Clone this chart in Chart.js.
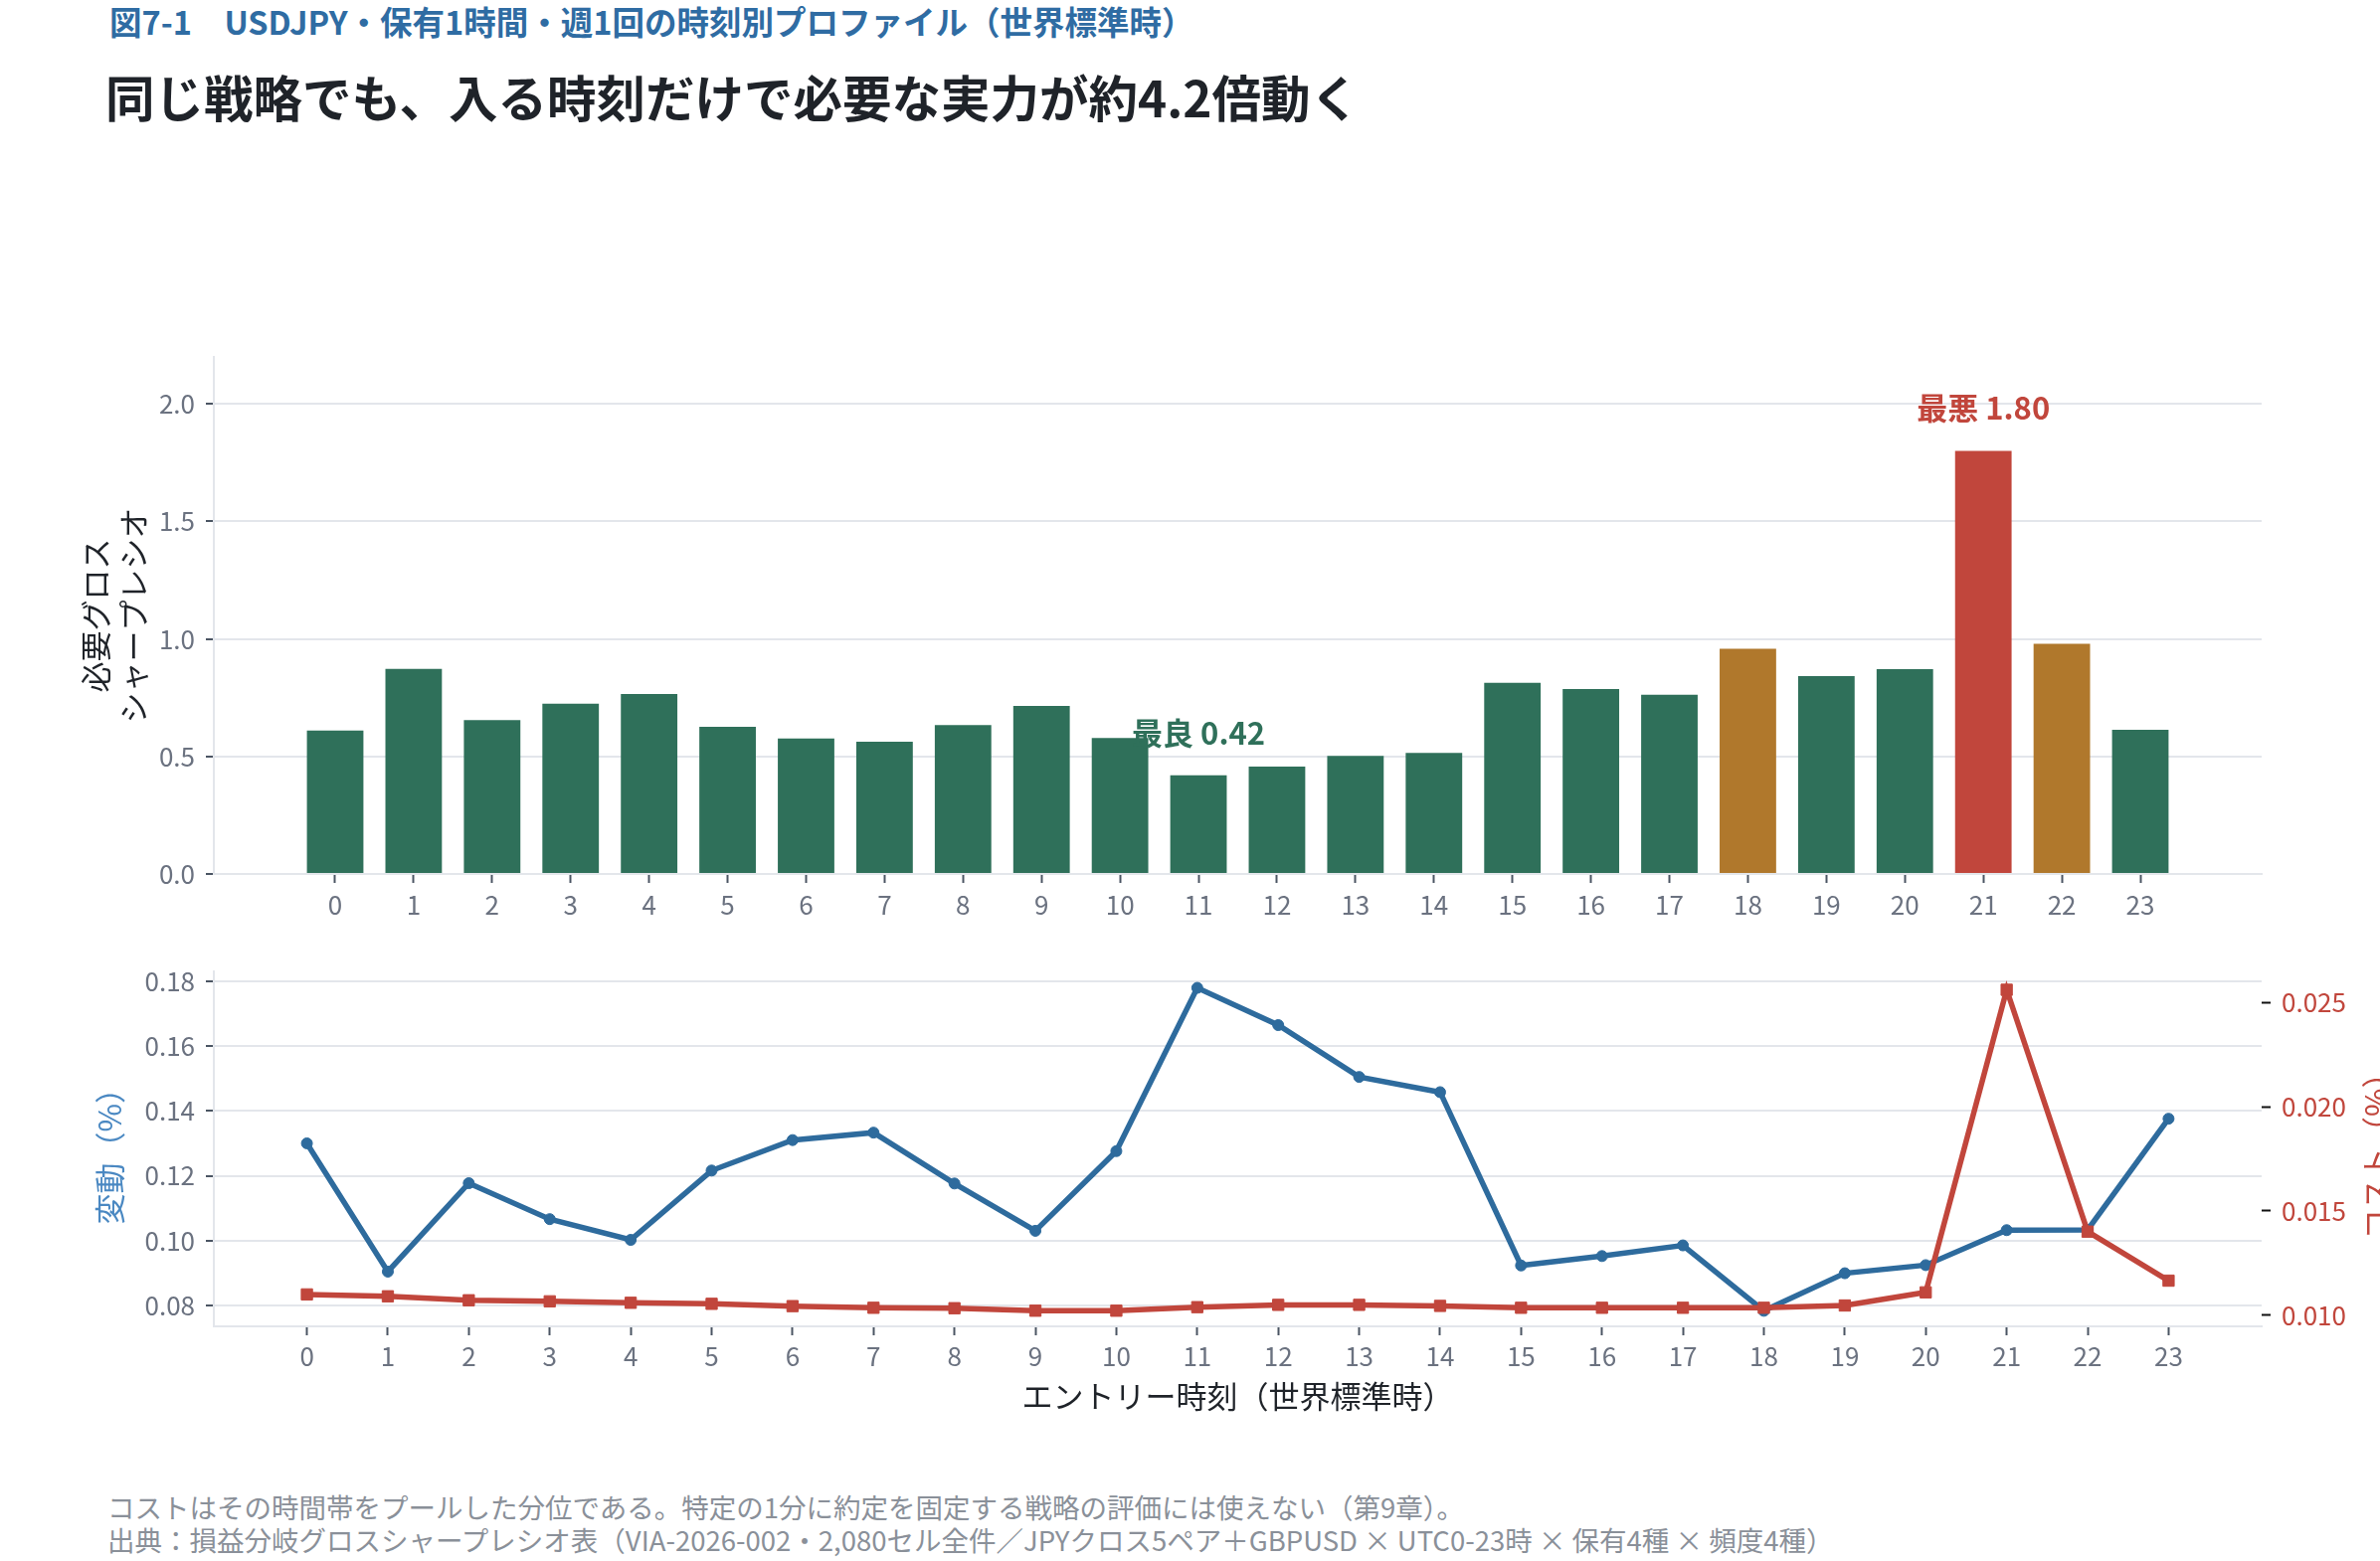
<!DOCTYPE html>
<html lang="ja">
<head>
<meta charset="utf-8">
<title>図7-1 USDJPY 時刻別プロファイル</title>
<script src="https://cdn.jsdelivr.net/npm/chart.js@4.4.1/dist/chart.umd.min.js"></script>
<style>
  body {
    margin: 0;
    width: 2393px;
    height: 1570px;
    background: #ffffff;
    position: relative;
    overflow: hidden;
    font-family: "Noto Sans CJK JP", "Noto Sans", sans-serif;
  }
  .kicker {
    position: absolute; left: 110px; top: 5px;
    font-size: 32.5px; line-height: 1; font-weight: 700;
    color: #2f6ca3; white-space: nowrap;
  }
  .headline {
    position: absolute; left: 106px; top: 72px;
    font-size: 49.5px; line-height: 1; font-weight: 700;
    color: #1f2329; white-space: nowrap;
  }
  .note {
    position: absolute; left: 108px; top: 1499px;
    font-size: 27.5px; line-height: 33px;
    color: #8a9099; white-space: nowrap;
  }
  canvas { position: absolute; left: 0; }
  #top-chart { top: 320px; }
  #bottom-chart { top: 950px; }
</style>
</head>
<body>
<div class="kicker">図7-1　USDJPY・保有1時間・週1回の時刻別プロファイル（世界標準時）</div>
<div class="headline">同じ戦略でも、入る時刻だけで必要な実力が約4.2倍動く</div>

<canvas id="top-chart" width="2393" height="620"></canvas>
<canvas id="bottom-chart" width="2393" height="500"></canvas>

<div class="note">コストはその時間帯をプールした分位である。特定の1分に約定を固定する戦略の評価には使えない（第9章）。<br>出典：損益分岐グロスシャープレシオ表（VIA-2026-002・2,080セル全件／JPYクロス5ペア＋GBPUSD × UTC0-23時 × 保有4種 × 頻度4種）</div>

<script>
// ---- データ ----
const hours = [0, 1, 2, 3, 4, 5, 6, 7, 8, 9, 10, 11, 12, 13, 14, 15, 16, 17, 18, 19, 20, 21, 22, 23];

// 必要グロス・シャープレシオ（上段の棒）
const requiredSharpe = [0.61, 0.873, 0.655, 0.724, 0.766, 0.626, 0.576, 0.563, 0.634, 0.715, 0.579, 0.42,
                        0.457, 0.502, 0.515, 0.813, 0.787, 0.763, 0.958, 0.842, 0.872, 1.80, 0.979, 0.613];

// 変動（%）と コスト（%）（下段の折れ線）
const volatility = [0.130, 0.0904, 0.1177, 0.1066, 0.1002, 0.1216, 0.131, 0.1333, 0.1176, 0.103, 0.1276, 0.178,
                    0.1665, 0.1505, 0.1458, 0.0923, 0.0952, 0.0985, 0.0783, 0.0899, 0.0924, 0.1032, 0.1033, 0.1376];
const cost = [0.0110, 0.01091, 0.01072, 0.01067, 0.0106, 0.01055, 0.01044, 0.01036, 0.01034, 0.01022, 0.01022, 0.01039,
              0.0105, 0.0105, 0.01045, 0.01036, 0.01036, 0.01036, 0.01036, 0.01047, 0.0111, 0.0256, 0.01401, 0.01166];

// 目盛り
const sharpeTicks = [0, 0.5, 1.0, 1.5, 2.0];
const volTicks = [0.08, 0.10, 0.12, 0.14, 0.16, 0.18];
const costTicks = [0.010, 0.015, 0.020, 0.025];

// ---- 色とフォント ----
const GREEN = '#2f705a';
const AMBER = '#b0782c';
const RED = '#c1463c';
const BLUE = '#2e6b9d';
const BLUE_LABEL = '#4a88c2';
const GRID = '#e3e6eb';
const TICK_MARK = '#4b5563';
const TICK_TEXT = '#6b7280';
const FONT = '"Noto Sans CJK JP", "Noto Sans", sans-serif';

Chart.defaults.font.family = FONT;
Chart.defaults.color = TICK_TEXT;

const tickFont = { size: 26 };
const titleFont = { size: 31, lineHeight: 1.2 };

// 上位1位=赤、2〜3位=琥珀、その他=緑
const ranked = requiredSharpe.map((v, i) => i).sort((a, b) => requiredSharpe[b] - requiredSharpe[a]);
const barColors = requiredSharpe.map((v, i) => {
  const r = ranked.indexOf(i);
  if (r === 0) return RED;
  if (r <= 2) return AMBER;
  return GREEN;
});

// 固定した軸の幅・高さ（プロット領域の位置合わせ用）
const fixWidth = w => scale => { scale.width = w; };
const fixHeight = h => scale => { scale.height = h; };
const setTicks = list => scale => { scale.ticks = list.map(v => ({ value: v })); };

// ---- 上段：最良・最悪の注記 ----
const barNotes = {
  id: 'barNotes',
  afterDatasetsDraw(chart) {
    const { ctx, scales: { x, y } } = chart;
    const best = requiredSharpe.indexOf(Math.min(...requiredSharpe));
    const worst = requiredSharpe.indexOf(Math.max(...requiredSharpe));
    const notes = [
      { i: best, text: '最良 ' + requiredSharpe[best].toFixed(2), color: GREEN },
      { i: worst, text: '最悪 ' + requiredSharpe[worst].toFixed(2), color: RED }
    ];
    ctx.save();
    ctx.font = `bold 31px ${FONT}`;
    ctx.textAlign = 'center';
    ctx.textBaseline = 'middle';
    notes.forEach(n => {
      ctx.fillStyle = n.color;
      ctx.fillText(n.text, x.getPixelForValue(hours[n.i]), y.getPixelForValue(requiredSharpe[n.i]) - 43);
    });
    ctx.restore();
  }
};

new Chart(document.getElementById('top-chart'), {
  type: 'bar',
  data: {
    datasets: [{
      label: '必要グロスシャープレシオ',
      data: hours.map((h, i) => ({ x: h, y: requiredSharpe[i] })),
      backgroundColor: barColors,
      borderWidth: 0,
      barPercentage: 0.72,
      categoryPercentage: 1.0
    }]
  },
  options: {
    responsive: false,
    animation: false,
    layout: { padding: { top: 39, left: 78, right: 119, bottom: 0 } },
    plugins: { legend: { display: false }, tooltip: { enabled: false } },
    scales: {
      x: {
        type: 'linear',
        min: -1.546,
        max: 24.546,
        offset: false,
        afterBuildTicks: setTicks(hours),
        afterFit: fixHeight(61),
        grid: { offset: false, drawOnChartArea: false, drawTicks: true, tickLength: 9, tickColor: TICK_MARK, tickWidth: 2 },
        border: { color: GRID, width: 2 },
        ticks: { font: tickFont, color: TICK_TEXT, padding: 7, autoSkip: false, maxRotation: 0 }
      },
      y: {
        min: 0,
        max: 2.2,
        afterBuildTicks: setTicks(sharpeTicks),
        afterFit: fixWidth(137),
        grid: { color: GRID, lineWidth: 2, tickLength: 8, tickColor: TICK_MARK, tickWidth: 2 },
        border: { color: GRID, width: 2 },
        ticks: { font: tickFont, color: TICK_TEXT, padding: 11, callback: v => v.toFixed(1) },
        title: {
          display: true,
          text: ['必要グロス', 'シャープレシオ'],
          font: titleFont,
          color: '#1f2329',
          padding: { top: 0, bottom: 0 }
        }
      }
    }
  },
  plugins: [barNotes]
});

// ---- 下段：右軸の見出し（左軸と同じ向き） ----
const costTitle = {
  id: 'costTitle',
  afterDraw(chart) {
    const { ctx, chartArea } = chart;
    ctx.save();
    ctx.translate(2389, (chartArea.top + chartArea.bottom) / 2);
    ctx.rotate(-Math.PI / 2);
    ctx.font = `31px ${FONT}`;
    ctx.fillStyle = RED;
    ctx.textAlign = 'center';
    ctx.textBaseline = 'middle';
    ctx.fillText('コスト（%）', 0, 0);
    ctx.restore();
  }
};

new Chart(document.getElementById('bottom-chart'), {
  type: 'line',
  data: {
    datasets: [
      {
        label: 'コスト（%）',
        data: hours.map((h, i) => ({ x: h, y: cost[i] })),
        yAxisID: 'y2',
        borderColor: RED,
        backgroundColor: RED,
        borderWidth: 5.5,
        pointStyle: 'rect',
        pointRadius: 8,
        pointBorderWidth: 1,
        tension: 0,
        order: 0
      },
      {
        label: '変動（%）',
        data: hours.map((h, i) => ({ x: h, y: volatility[i] })),
        yAxisID: 'y',
        borderColor: BLUE,
        backgroundColor: BLUE,
        borderWidth: 5.5,
        pointStyle: 'circle',
        pointRadius: 5.5,
        pointBorderWidth: 1,
        tension: 0,
        order: 1
      }
    ]
  },
  options: {
    responsive: false,
    animation: false,
    layout: { padding: { top: 23, left: 78, right: 0, bottom: 0 } },
    plugins: { legend: { display: false }, tooltip: { enabled: false } },
    scales: {
      x: {
        type: 'linear',
        min: -1.15,
        max: 24.15,
        afterBuildTicks: setTicks(hours),
        afterFit: fixHeight(116),
        grid: { drawOnChartArea: false, drawTicks: true, tickLength: 9, tickColor: TICK_MARK, tickWidth: 2 },
        border: { color: GRID, width: 2 },
        ticks: { font: tickFont, color: TICK_TEXT, padding: 6, autoSkip: false, maxRotation: 0 },
        title: {
          display: true,
          text: 'エントリー時刻（世界標準時）',
          font: titleFont,
          color: '#1f2329',
          padding: { top: 0, bottom: 27 }
        }
      },
      y: {
        position: 'left',
        min: 0.0735,
        max: 0.1832,
        afterBuildTicks: setTicks(volTicks),
        afterFit: fixWidth(137),
        grid: { color: GRID, lineWidth: 2, tickLength: 8, tickColor: TICK_MARK, tickWidth: 2 },
        border: { color: GRID, width: 2 },
        ticks: { font: tickFont, color: TICK_TEXT, padding: 11, callback: v => v.toFixed(2) },
        title: {
          display: true,
          text: '変動（%）',
          font: titleFont,
          color: BLUE_LABEL,
          padding: { top: 14, bottom: 0 }
        }
      },
      y2: {
        position: 'right',
        min: 0.00947,
        max: 0.0265,
        afterBuildTicks: setTicks(costTicks),
        afterFit: fixWidth(119),
        grid: { drawOnChartArea: false, tickLength: 9, tickColor: '#111111', tickWidth: 2 },
        border: { display: false },
        ticks: { font: tickFont, color: RED, padding: 11, callback: v => v.toFixed(3) }
      }
    }
  },
  plugins: [costTitle]
});
</script>
</body>
</html>
